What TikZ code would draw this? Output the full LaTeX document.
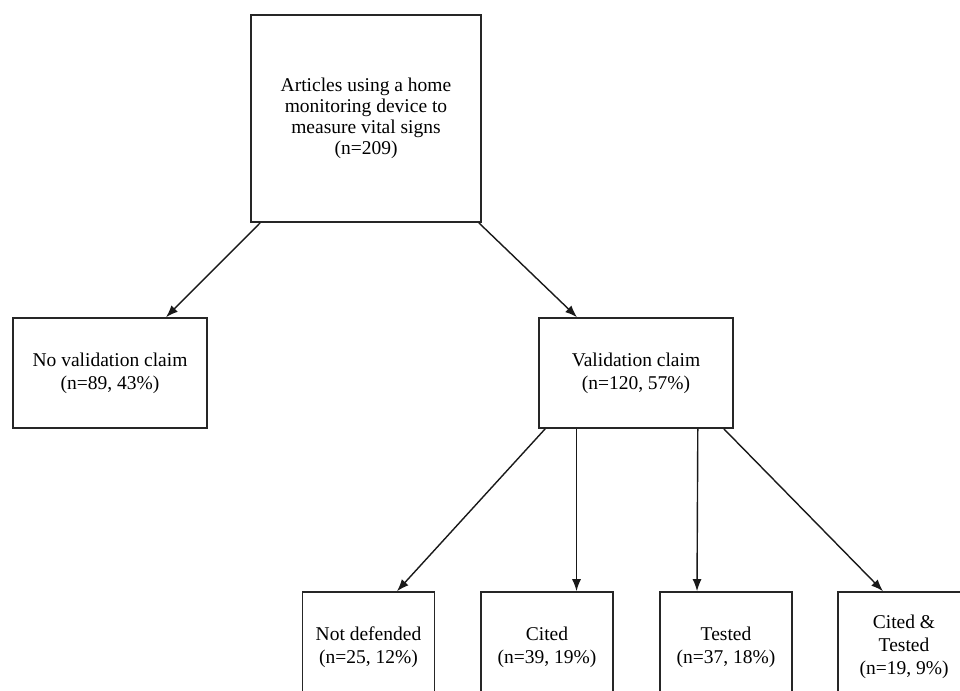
\documentclass[tikz,border=0pt]{standalone}
\usepackage{fontspec}
\setmainfont{Liberation Serif}
\usetikzlibrary{arrows.meta}
\begin{document}
\begin{tikzpicture}[x=1pt,y=-1pt,
  box/.style={draw=black!85, line width=1.6pt, inner sep=0pt, align=center,
    font=\fontsize{19.5}{23}\selectfont},
  topbox/.style={box, minimum width=230pt, minimum height=207pt,
    font=\fontsize{19.5}{21}\selectfont},
  midbox/.style={box, minimum width=194pt, minimum height=110pt},
  lowbox/.style={box, minimum width=132pt, minimum height=110pt},
  arr/.style={-{Latex[length=12pt,width=9pt]}, line width=1.4pt, draw=black!90}]
\clip (0,0) rectangle (960,690);
\fill[white] (0,0) rectangle (960,690);

\node[topbox] (top) at (366,118.5) {Articles using a home\\monitoring device to\\measure vital signs\\(n=209)};
\node[midbox] (noval) at (110,373) {No validation claim\\(n=89, 43\%)};
\node[midbox] (val) at (636,373) {Validation claim\\(n=120, 57\%)};
\node[lowbox] (nd) at (368.5,647) {Not defended\\(n=25, 12\%)};
\node[lowbox] (cited) at (547,647) {Cited\\(n=39, 19\%)};
\node[lowbox] (tested) at (726,647) {Tested\\(n=37, 18\%)};
\node[lowbox] (ct) at (904,647) {Cited \&\\Tested\\(n=19, 9\%)};

\draw[arr] ([xshift=10pt]top.south west) -- ([xshift=56pt]noval.north);
\draw[arr] ([xshift=-3pt]top.south east) -- ([xshift=-59pt]val.north);
\draw[arr] ([xshift=7pt]val.south west) -- ([xshift=28.5pt]nd.north);
\draw[arr] ([xshift=-59.5pt]val.south) -- ([xshift=29.5pt]cited.north);
\draw[arr] ([xshift=-36pt]val.south east) -- ([xshift=-29pt]tested.north);
\draw[arr] ([xshift=-10pt]val.south east) -- ([xshift=-21pt]ct.north);
\end{tikzpicture}
\end{document}
